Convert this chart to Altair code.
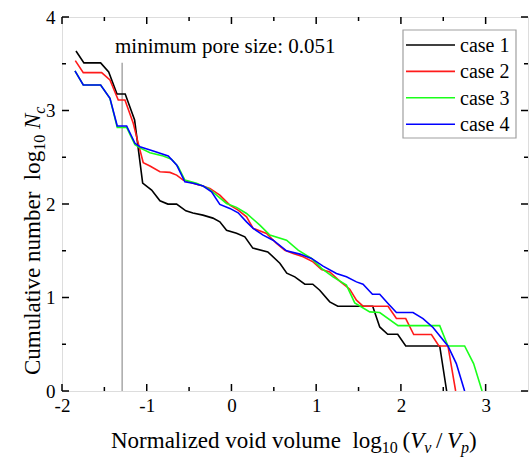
import altair as alt
import pandas as pd

# ---------------- data ----------------
series_names = ["case 1", "case 2", "case 3", "case 4"]
series_colors = ["#000000", "#ff1a1a", "#1aff1a", "#0000ff"]

case1_x = [-1.835, -1.741, -1.544, -1.449, -1.351, -1.254, -1.143, -1.048, -0.942, -0.844, -0.75, -0.647,
           -0.538, -0.455, -0.337, -0.219, -0.137, -0.058, 0.06, 0.158, 0.252, 0.429, 0.571, 0.653, 0.748,
           0.866, 0.96, 1.042, 1.16, 1.255, 1.667, 1.75, 1.844, 1.962, 2.057, 2.458, 2.54]
case1_y = [3.637, 3.509, 3.509, 3.412, 3.177, 3.177, 2.898, 2.224, 2.149, 2.034, 1.999, 1.999,
           1.927, 1.903, 1.881, 1.849, 1.809, 1.72, 1.688, 1.649, 1.528, 1.488, 1.367, 1.26, 1.221,
           1.142, 1.142, 1.078, 0.953, 0.907, 0.907, 0.685, 0.607, 0.607, 0.482, 0.482, 0.0]

case2_x = [-1.843, -1.749, -1.532, -1.434, -1.336, -1.257, -1.159, -1.10, -1.041, -0.962, -0.844, -0.726,
           -0.647, -0.570, -0.511, -0.373, -0.255, -0.137, -0.019, 0.079, 0.178, 0.256, 0.414, 0.532,
           0.630, 0.728, 0.846, 0.963, 1.063, 1.16, 1.278, 1.396, 1.475, 1.553, 1.848, 1.947, 2.057,
           2.151, 2.36, 2.449, 2.555, 2.646]
case2_y = [3.533, 3.405, 3.405, 3.327, 3.112, 3.112, 2.863, 2.649, 2.441, 2.406, 2.345, 2.338,
           2.309, 2.256, 2.238, 2.202, 2.167, 2.095, 1.988, 1.935, 1.863, 1.739, 1.685, 1.578,
           1.506, 1.471, 1.435, 1.381, 1.30, 1.274, 1.175, 1.089, 0.971, 0.907, 0.907, 0.775, 0.775,
           0.604, 0.604, 0.482, 0.482, 0.0]

case3_x = [-1.847, -1.749, -1.544, -1.434, -1.348, -1.237, -1.139, -1.08, -0.962, -0.805, -0.706, -0.629,
           -0.55, -0.412, -0.275, -0.176, -0.058, 0.06, 0.178, 0.335, 0.453, 0.65, 0.787, 0.945,
           1.063, 1.199, 1.357, 1.455, 1.632, 1.75, 1.966, 2.458, 2.555, 2.752, 2.858, 2.958]
case3_y = [3.423, 3.273, 3.273, 3.131, 2.82, 2.82, 2.635, 2.60, 2.548, 2.513, 2.478, 2.398,
           2.256, 2.221, 2.167, 2.095, 2.006, 1.964, 1.899, 1.774, 1.667, 1.613, 1.506, 1.418,
           1.311, 1.221, 1.132, 0.942, 0.846, 0.839, 0.699, 0.699, 0.482, 0.482, 0.293, 0.0]

case4_x = [-1.847, -1.749, -1.544, -1.434, -1.348, -1.237, -1.139, -1.08, -0.923, -0.746, -0.647, -0.55,
           -0.452, -0.334, -0.235, -0.137, -0.019, 0.079, 0.178, 0.256, 0.374, 0.492, 0.650, 0.807,
           0.945, 1.081, 1.239, 1.357, 1.475, 1.553, 1.664, 1.75, 1.848, 1.947, 2.143, 2.261, 2.379,
           2.555, 2.654, 2.752]
case4_y = [3.423, 3.273, 3.273, 3.131, 2.834, 2.834, 2.649, 2.612, 2.566, 2.513, 2.417, 2.238,
           2.221, 2.192, 2.131, 1.996, 1.953, 1.906, 1.809, 1.739, 1.667, 1.613, 1.499, 1.464,
           1.418, 1.335, 1.257, 1.221, 1.167, 1.142, 1.035, 1.035, 0.936, 0.839, 0.839, 0.775, 0.679,
           0.482, 0.293, 0.0]

min_pore_log = -1.29          # log10(0.051)
min_pore_top = 3.51
annotation = "minimum pore size: 0.051"

x_major = [-2, -1, 0, 1, 2, 3]
x_minor = [-1.5, -0.5, 0.5, 1.5, 2.5]
y_major = [0, 1, 2, 3, 4]
y_minor = [0.5, 1.5, 2.5, 3.5]

# ---------------- layout ----------------
W, H = 466, 374
FONT = "Liberation Serif"
TITLE_FS = 23
SUB_FS = 16
SUB_DY = 5

xs = [case1_x, case2_x, case3_x, case4_x]
ys = [case1_y, case2_y, case3_y, case4_y]
rows = []
for name, xv, yv in zip(series_names, xs, ys):
    for i, (a, b) in enumerate(zip(xv, yv)):
        rows.append({"series": name, "i": i, "x": a, "y": b})
curves = pd.DataFrame(rows)

color_scale = alt.Scale(domain=series_names, range=series_colors)
xscale = alt.Scale(domain=[-2, 3.5], nice=False, zero=False)
yscale = alt.Scale(domain=[0, 4], nice=False, zero=False)

lines = alt.Chart(curves).mark_line(strokeWidth=1.6, clip=True).encode(
    x=alt.X("x:Q", scale=xscale,
            axis=alt.Axis(values=x_major, title=None, ticks=False, domain=False, grid=False,
                          labelFont=FONT, labelFontSize=19, labelColor="black", labelPadding=5,
                          labelFlush=False, labelExpr="'' + datum.value")),
    y=alt.Y("y:Q", scale=yscale,
            axis=alt.Axis(values=y_major, title=None, ticks=False, domain=False, grid=False,
                          labelFont=FONT, labelFontSize=19, labelColor="black", labelPadding=7,
                          labelExpr="'' + datum.value")),
    color=alt.Color("series:N", scale=color_scale, legend=None),
    order="i:Q",
)

one = pd.DataFrame({"k": [0]})

vline = alt.Chart(one).mark_rule(color="#a8a8a8", strokeWidth=1.5).encode(
    x=alt.datum(min_pore_log), y=alt.datum(0), y2=alt.datum(min_pore_top))

note = alt.Chart(one).mark_text(font=FONT, fontSize=21, align="left", baseline="alphabetic",
                                color="black").encode(
    x=alt.value(53), y=alt.value(36), text=alt.value(annotation))

# ticks (inward)
def tick_layers(vals, length):
    d = pd.DataFrame({"v": vals})
    base = alt.Chart(d).mark_rule(color="black", strokeWidth=1.5)
    return [
        base.encode(x="v:Q", y=alt.value(H), y2=alt.value(H - length)),
        base.encode(x="v:Q", y=alt.value(0), y2=alt.value(length)),
    ]

def ytick_layers(vals, length):
    d = pd.DataFrame({"v": vals})
    base = alt.Chart(d).mark_rule(color="black", strokeWidth=1.5)
    return [
        base.encode(y="v:Q", x=alt.value(0), x2=alt.value(length)),
        base.encode(y="v:Q", x=alt.value(W), x2=alt.value(W - length)),
    ]

ticks = tick_layers(x_major, 7) + tick_layers(x_minor, 4) + ytick_layers(y_major, 7) + ytick_layers(y_minor, 4)

# legend (manual box)
legend_layers = [
    alt.Chart(one).mark_rect(fill="white", stroke="#a0a0a0", strokeWidth=1.2).encode(
        x=alt.value(341), x2=alt.value(454), y=alt.value(13), y2=alt.value(121))
]
for i, (name, col) in enumerate(zip(series_names, series_colors)):
    yy = 28 + i * 26.4
    legend_layers.append(alt.Chart(one).mark_rule(strokeWidth=1.6, color=col).encode(
        x=alt.value(344), x2=alt.value(393), y=alt.value(yy)))
    legend_layers.append(alt.Chart(one).mark_text(font=FONT, fontSize=20, align="left",
                                                  baseline="middle", color="black").encode(
        x=alt.value(398), y=alt.value(yy + 1), text=alt.value(name)))

# axis titles composed of pieces (Times-like metrics for placement)
ROMAN = {' ': 250, 'N': 722, 'o': 500, 'r': 333, 'm': 778, 'a': 444, 'l': 278, 'i': 278, 'z': 444,
         'e': 444, 'd': 500, 'v': 500, 'u': 500, 'g': 500, 'C': 667, 't': 278, 'b': 500, 'n': 500,
         'c': 444, '(': 333, ')': 333, '/': 278, '0': 500, '1': 500, 'p': 500, 'V': 722}
ITAL = {'V': 611, 'v': 444, 'p': 500, 'N': 667, 'c': 444}

def tw(s, size, italic=False):
    t = ITAL if italic else ROMAN
    return sum(t.get(ch, 500) for ch in s) * size / 1000.0

# (text, size, italic, sub, gap_before_in_spaces)
x_title = [("Normalized void volume", TITLE_FS, False, False, 0),
           ("log", TITLE_FS, False, False, 2),
           ("10", SUB_FS, False, True, 0),
           ("(", TITLE_FS, False, False, 0.8),
           ("V", TITLE_FS, True, False, 0),
           ("v", SUB_FS, True, True, 0),
           ("/", TITLE_FS, False, False, 0.8),
           ("V", TITLE_FS, True, False, 0.8),
           ("p", SUB_FS, True, True, 0),
           (")", TITLE_FS, False, False, 0)]
y_title = [("Cumulative number", TITLE_FS, False, False, 0),
           ("log", TITLE_FS, False, False, 2),
           ("10", SUB_FS, False, True, 0),
           ("N", TITLE_FS, True, False, 1),
           ("c", SUB_FS, True, True, 0)]

def layout(pieces):
    pos, cur = [], 0.0
    for text, size, ital, sub, gap in pieces:
        cur += gap * 0.25 * TITLE_FS
        pos.append(cur)
        cur += tw(text, size, ital)
    return pos, cur

title_layers = []
xpos, xtot = layout(x_title)
x0 = 49
XB = 431
for (text, size, ital, sub, gap), p in zip(x_title, xpos):
    title_layers.append(alt.Chart(one).mark_text(
        font=FONT, fontSize=size, fontStyle="italic" if ital else "normal", align="left",
        baseline="alphabetic", color="black").encode(
        x=alt.value(x0 + p), y=alt.value(XB + (SUB_DY if sub else 0)), text=alt.value(text)))

ypos, ytot = layout(y_title)
y0 = 358
YB = -22
for (text, size, ital, sub, gap), p in zip(y_title, ypos):
    title_layers.append(alt.Chart(one).mark_text(
        font=FONT, fontSize=size, fontStyle="italic" if ital else "normal", align="left",
        baseline="alphabetic", angle=270, color="black").encode(
        x=alt.value(YB + (SUB_DY if sub else 0)), y=alt.value(y0 - p), text=alt.value(text)))

chart = alt.layer(vline, lines, *ticks, note, *legend_layers, *title_layers).properties(
    width=W, height=H,
    padding={"left": 62, "top": 17, "right": 2, "bottom": 67},
    autosize=alt.AutoSizeParams(type="none"),
).configure_view(stroke="black", strokeWidth=1.8).configure(background="white")

chart.save("out.html", embed_options={"renderer": "svg", "actions": False})
